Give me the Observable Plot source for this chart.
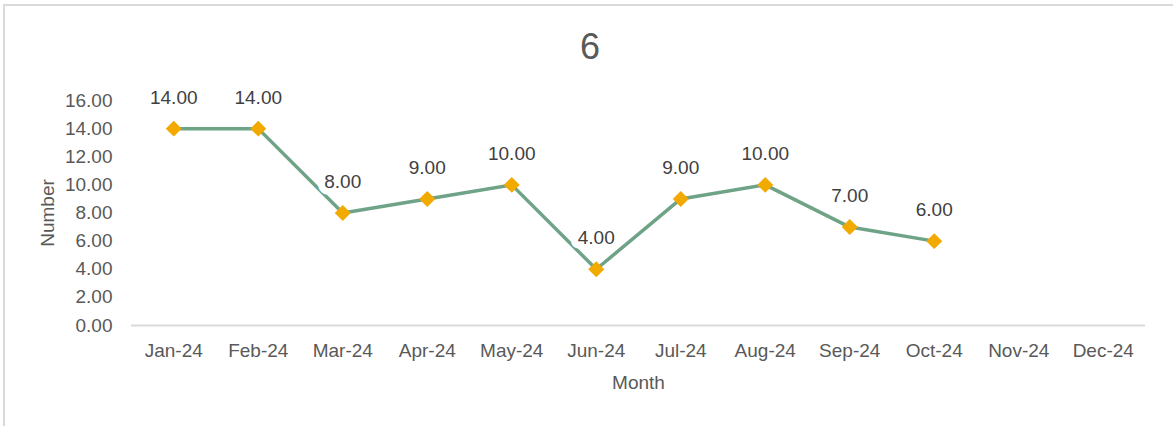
<!DOCTYPE html>
<html>
<head>
<meta charset="utf-8">
<script src="https://cdn.jsdelivr.net/npm/d3@7"></script>
<script src="https://cdn.jsdelivr.net/npm/@observablehq/plot@0.6"></script>
<style>
  html, body { margin: 0; padding: 0; background: #fff; }
  #wrap { position: relative; width: 1173px; height: 426px; overflow: hidden; }
  #frame { position: absolute; left: 3px; top: 4px; width: 1180px; height: 440px;
           border-left: 2px solid #d9d9d9; border-top: 2px solid #d9d9d9; box-sizing: border-box; }
  #title { position: absolute; left: 0; width: 1180px; top: 26px; text-align: center;
           font-family: "Liberation Sans Narrow", "Arial Narrow", "Liberation Sans", sans-serif;
           font-size: 36px; color: #595959; }
  #chart { position: absolute; left: 0; top: 0; }
</style>
</head>
<body>
<div id="wrap">
  <div id="frame"></div>
  <div id="chart"></div>
  <div id="title">6</div>
</div>
<script>
const months = ["Jan-24","Feb-24","Mar-24","Apr-24","May-24","Jun-24","Jul-24","Aug-24","Sep-24","Oct-24","Nov-24","Dec-24"];
const valueMonths = ["Jan-24","Feb-24","Mar-24","Apr-24","May-24","Jun-24","Jul-24","Aug-24","Sep-24","Oct-24"];
const values = [14, 14, 8, 9, 10, 4, 9, 10, 7, 6];
const yTicks = [0, 2, 4, 6, 8, 10, 12, 14, 16];

const data = valueMonths.map((m, i) => ({month: m, value: values[i]}));
const font = '"Liberation Sans Narrow", "Arial Narrow", "Liberation Sans", sans-serif';

const chart = Plot.plot({
  width: 1173,
  height: 426,
  marginLeft: 131,
  marginRight: 28,
  marginTop: 100,
  marginBottom: 101,
  style: {fontFamily: font, fontSize: "19px", color: "#595959", background: "transparent"},
  x: {type: "point", domain: months, padding: 0.5, round: false, label: null},
  y: {domain: [0, 16], label: null},
  marks: [
    Plot.axisY({ticks: yTicks, tickSize: 0, tickPadding: 19, tickFormat: d => d.toFixed(2),
      fill: "#595959", label: "Number", labelAnchor: "center", labelArrow: "none", labelOffset: 91}),
    Plot.axisX({tickSize: 0, tickPadding: 18, fill: "#595959",
      label: "Month", labelAnchor: "center", labelArrow: "none", labelOffset: 63}),
    Plot.ruleY([0], {stroke: "#d9d9d9", strokeWidth: 2}),
    Plot.line(data, {x: "month", y: "value", stroke: "#6ea387", strokeWidth: 3.5}),
    Plot.dot(data, {x: "month", y: "value", symbol: "diamond2", r: 7.2, fill: "#f2a900", stroke: "none"}),
    Plot.text(data, {x: "month", y: "value", text: d => d.value.toFixed(2), dy: -31,
      fill: "#404040", stroke: "white", strokeWidth: 14, fontSize: 19})
  ]
});
document.getElementById("chart").appendChild(chart);
</script>
</body>
</html>
